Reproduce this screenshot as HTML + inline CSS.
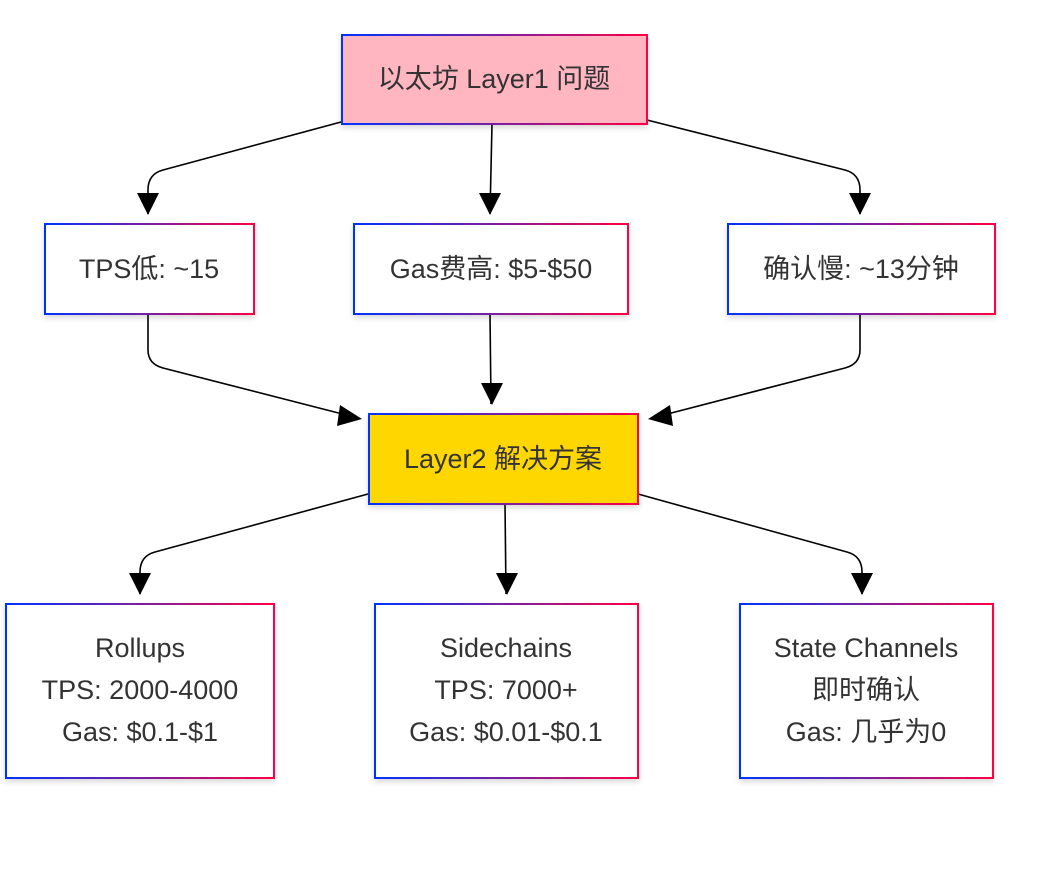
<!DOCTYPE html>
<html><head><meta charset="utf-8"><style>
body{margin:0;background:#fff}
svg text{font-family:"Liberation Sans","Noto Sans CJK SC",sans-serif;font-size:27px;fill:#333;text-anchor:middle;dominant-baseline:central}
</style></head><body>
<svg width="1058" height="866" viewBox="0 0 1058 866" xmlns="http://www.w3.org/2000/svg">
<defs>
<linearGradient id="g" x1="0" x2="1" y1="0" y2="0"><stop offset="0" stop-color="#0033ff"/><stop offset="0.5" stop-color="#7a1fa2"/><stop offset="1" stop-color="#ff0044"/></linearGradient>
<filter id="s" x="-10%" y="-10%" width="120%" height="130%"><feDropShadow dx="0" dy="3" stdDeviation="3" flood-opacity="0.15"/></filter>
</defs>
<g fill="none" stroke="#000" stroke-width="1.6">
<path d="M341,122 L163,170 Q148,174 148,190 L148,214" />
<path d="M492,124 L490,214" />
<path d="M647,120 L845,170 Q860,174 860,190 L860,214" />
<path d="M148,314 L148,350 Q148,364 163,368 L358,418" />
<path d="M490,314 L491,404" />
<path d="M860,314 L860,350 Q860,364 845,368 L652,418" />
<path d="M368,494 L155,552 Q140,556 140,572 L140,594" />
<path d="M505,504 L506,594" />
<path d="M638,494 L847,552 Q862,556 862,572 L862,594" />
</g>
<g fill="#000">
<path d="M137,193 L159,193 L148,215z"/>
<path d="M479,193 L501,193 L490,215z"/>
<path d="M849,193 L871,193 L860,215z"/>
<path d="M481,383 L503,383 L492,405z"/>
<path d="M340,405 L362,419 L337,426z"/>
<path d="M670,405 L648,419 L673,426z"/>
<path d="M129,573 L151,573 L140,595z"/>
<path d="M496,573 L518,573 L507,595z"/>
<path d="M851,573 L873,573 L862,595z"/>
</g>
<g stroke="url(#g)" stroke-width="2" filter="url(#s)">
<rect x="342" y="35" width="305" height="89" fill="#ffb6c1"/>
<rect x="45" y="224" width="209" height="90" fill="#fff"/>
<rect x="354" y="224" width="274" height="90" fill="#fff"/>
<rect x="728" y="224" width="267" height="90" fill="#fff"/>
<rect x="369" y="414" width="269" height="90" fill="#ffd700"/>
<rect x="6" y="604" width="268" height="174" fill="#fff"/>
<rect x="375" y="604" width="263" height="174" fill="#fff"/>
<rect x="740" y="604" width="253" height="174" fill="#fff"/>
</g>
<text x="494" y="79">以太坊 Layer1 问题</text>
<text x="149" y="269">TPS低: ~15</text>
<text x="491" y="269">Gas费高: $5-$50</text>
<text x="861" y="269">确认慢: ~13分钟</text>
<text x="503" y="459">Layer2 解决方案</text>
<text x="140" y="648">Rollups</text>
<text x="140" y="690">TPS: 2000-4000</text>
<text x="140" y="732">Gas: $0.1-$1</text>
<text x="506" y="648">Sidechains</text>
<text x="506" y="690">TPS: 7000+</text>
<text x="506" y="732">Gas: $0.01-$0.1</text>
<text x="866" y="648">State Channels</text>
<text x="866" y="690">即时确认</text>
<text x="866" y="732">Gas: 几乎为0</text>
</svg>
</body></html>
